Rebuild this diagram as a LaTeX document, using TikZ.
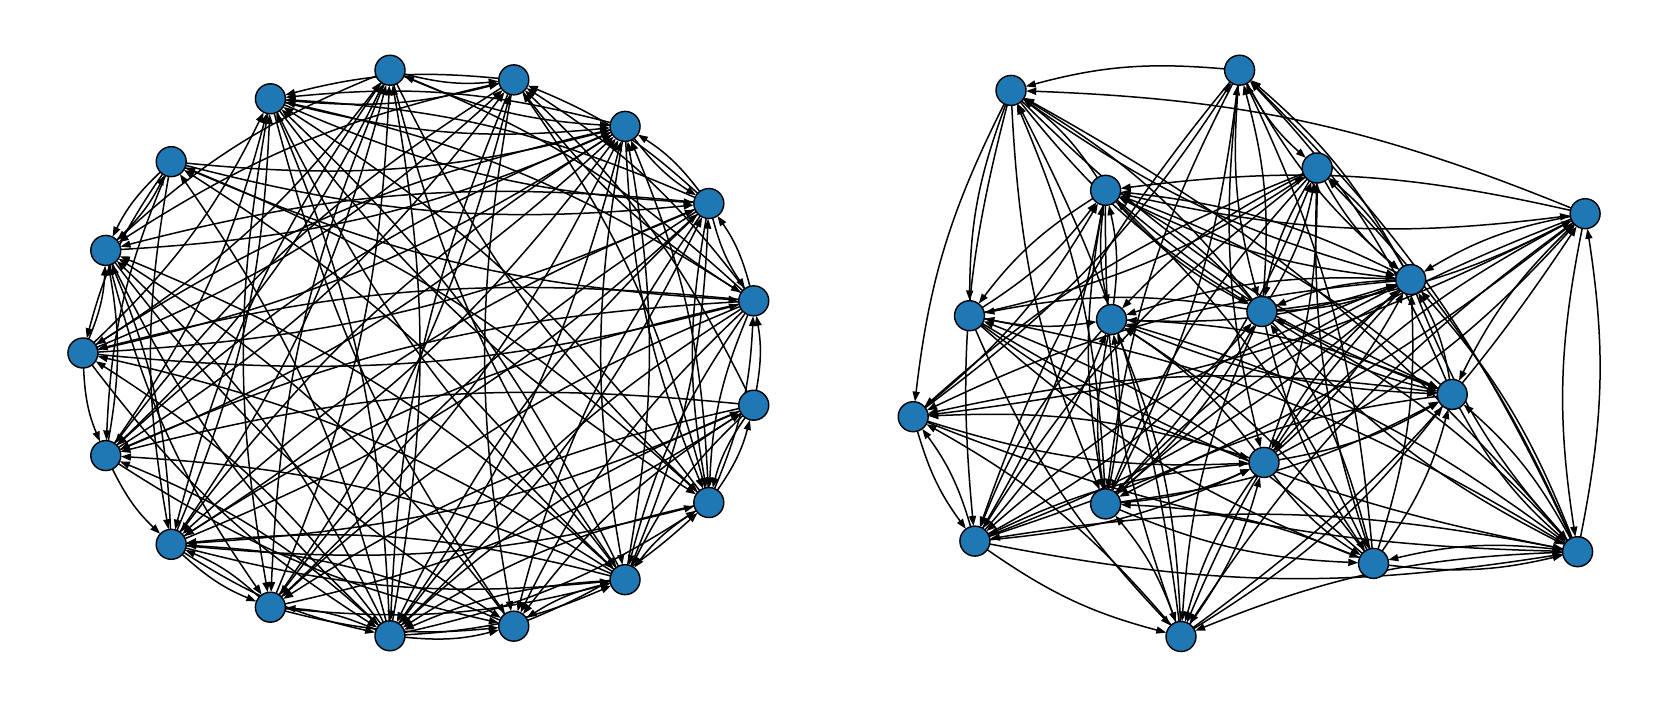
\documentclass[tikz,border=0pt]{standalone}
\usetikzlibrary{arrows.meta}
\definecolor{nodeblue}{RGB}{31,119,180}
\begin{document}
\begin{tikzpicture}[x=1pt,y=-1pt,
  vtxshape/.style={circle,minimum size=30pt,inner sep=0pt},
  vtx/.style={circle,draw=black,line width=1.4pt,fill=nodeblue,minimum size=30pt,inner sep=0pt},
  conn/.style={-{Triangle[length=10pt,width=7pt]},line width=1.5pt,bend right=10}]
\useasboundingbox (0,0) rectangle (1667,707);
% left graph: circular layout
\foreach \k in {0,...,16} {
  \pgfmathsetmacro\ang{10.588+21.176*\k}
  \node[vtxshape] (L\k) at ({421.2+338.3*cos(\ang)},{353.0-284.0*sin(\ang)}) {};
}
% right graph
\foreach \n/\x/\y in {1/1011.0/90.4, 2/1239.6/70.2, 3/1317.2/168.0, 4/1105.6/190.3,
  5/1585.1/213.7, 6/1410.7/279.6, 7/969.5/315.7, 8/1111.5/319.5, 9/1261.9/311.5,
  10/1452.2/394.4, 11/913.2/416.7, 12/1264.0/462.4, 13/1105.6/503.9, 14/974.9/541.1,
  15/1373.5/563.4, 16/1577.6/551.7, 17/1181.0/636.5} {
  \node[vtxshape] (R\n) at (\x,\y) {};
}
\pgfmathsetseed{4242}
\foreach \i in {0,...,16} {
  \foreach \j in {0,...,16} {
    \ifnum\i=\j\relax\else
      \pgfmathtruncatemacro\keep{rnd<0.5}
      \ifnum\keep=1 \draw[conn] (L\i) to (L\j);\fi
    \fi
  }
}
\foreach \i in {1,...,17} {
  \foreach \j in {1,...,17} {
    \ifnum\i=\j\relax\else
      \pgfmathtruncatemacro\keep{rnd<0.5}
      \ifnum\keep=1 \draw[conn] (R\i) to (R\j);\fi
    \fi
  }
}
\foreach \k in {0,...,16} { \node[vtx] at (L\k) {}; }
\foreach \n in {1,...,17} { \node[vtx] at (R\n) {}; }
\end{tikzpicture}
\end{document}
